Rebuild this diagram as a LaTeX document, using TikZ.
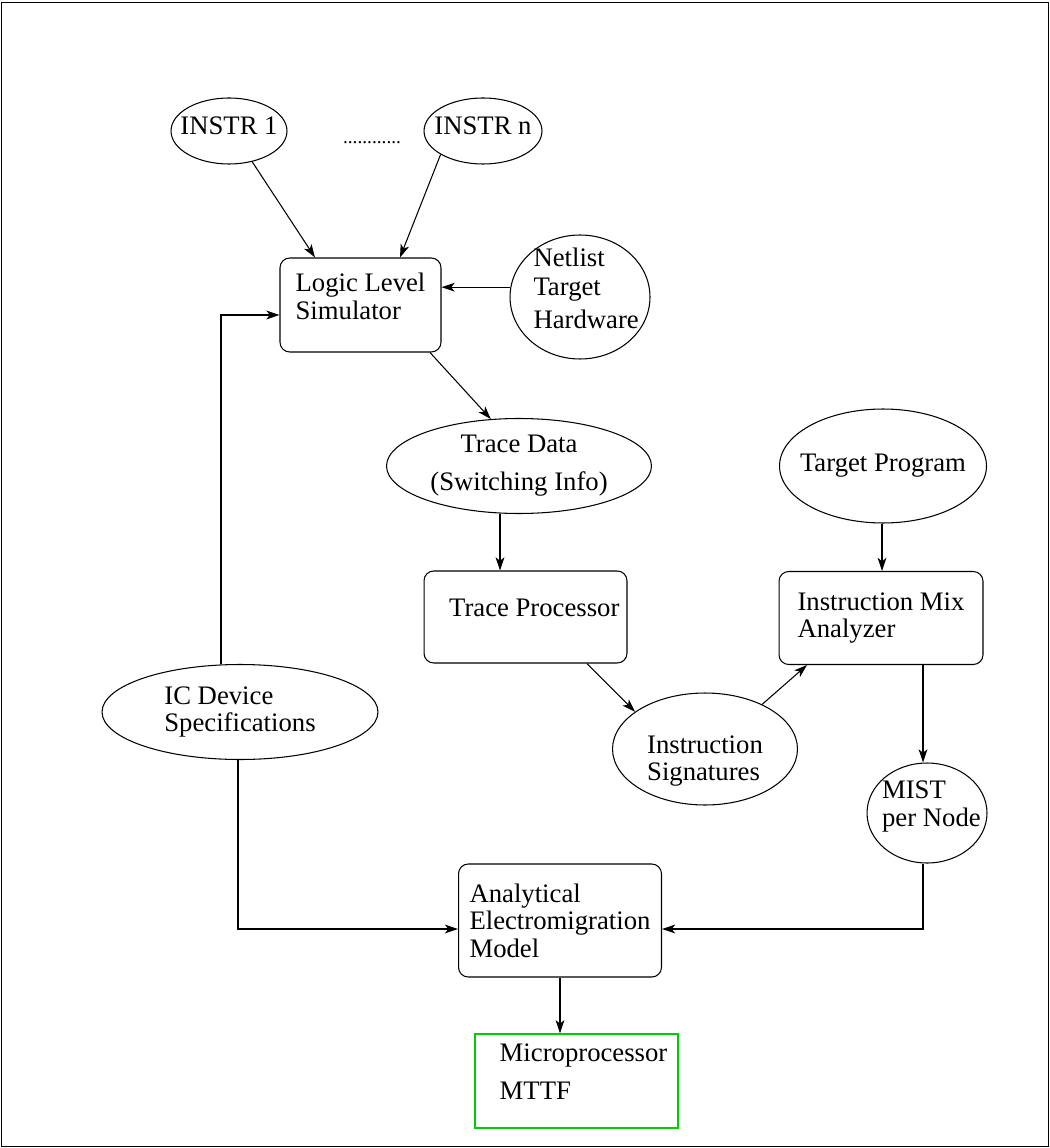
\documentclass[tikz,border=0pt]{standalone}
\usepackage{fontspec}
\setmainfont{Liberation Serif}
\usetikzlibrary{arrows.meta,shapes.geometric}
\definecolor{mttfgreen}{RGB}{0,205,0}
\begin{document}
\begin{tikzpicture}[x=0.02cm,y=-0.02cm,
    font=\fontsize{15.2}{15.6}\selectfont,
    proc/.style={draw,rounded corners=5.5pt,align=left,inner sep=0pt,line width=0.6pt},
    data/.style={draw,ellipse,align=left,inner sep=-20pt,line width=0.6pt},
    arr/.style={-{Stealth[length=7.5pt,width=5pt,inset=2pt]},line width=0.6pt}]
        %% frame
        \useasboundingbox (0,0) rectangle (1050,1148);
        \draw[line width=1pt] (1.5,2.5) rectangle (1048.5,1146.5);
        %% instructions
        \node[data,minimum width=2.32cm,minimum height=1.32cm] (instr1) at (229,131) {INSTR 1\\[-10pt]};
        \node[data,minimum width=2.36cm,minimum height=1.32cm] (instrn) at (483,131) {INSTR n\\[-10pt]};
        \node[font=\fontsize{11}{12}\selectfont] (dots) at (372,143) {............};
        %% simulator and its inputs
        \node[proc,minimum width=3.22cm,minimum height=1.88cm] (logic) at (360.5,305) {Logic Level\\Simulator\\[-5.4pt]};
        \node[data,minimum width=2.8cm,minimum height=2.48cm] (netlist) at (580,297) {\hspace*{7pt}Netlist\\[1pt]\hspace*{7pt}Target\\[3pt]\hspace*{7pt}Hardware\\[-5.4pt]};
        \node[data,minimum width=5.52cm,minimum height=1.9cm] (ic) at (240,712) {IC Device\\Specifications};
        %% trace path
        \node[data,align=center,minimum width=5.3cm,minimum height=1.9cm] (trace) at (519,466) {Trace Data\\[6pt](Switching Info)};
        \node[proc,minimum width=4.06cm,minimum height=1.84cm] (traceproc) at (525.5,617) {\hspace*{10pt}Trace Processor\\[-5.4pt]};
        \node[data,minimum width=3.7cm,minimum height=2.24cm] (sig) at (705,749) {Instruction\\Signatures\\[-25.8pt]};
        %% program path
        \node[data,minimum width=4.14cm,minimum height=2.28cm] (target) at (883,466) {Target Program};
        \node[proc,minimum width=4.08cm,minimum height=1.86cm] (mix) at (881,618) {Instruction Mix\\Analyzer};
        \node[data,minimum width=2.4cm,minimum height=2.0cm] (mist) at (927,813) {\hspace*{5pt}MIST\\\hspace*{5pt}per Node\\[-5pt]};
        %% model and result
        \node[proc,minimum width=4.06cm,minimum height=2.26cm] (model) at (560,920.5) {Analytical\\Electromigration\\Model};
        \node[draw=mttfgreen,line width=0.8pt,align=left,inner sep=0pt,minimum width=4.06cm,minimum height=1.88cm] (mttf) at (576.5,1081) {\hspace*{8pt}Microprocessor\\[6pt]\hspace*{8pt}MTTF\\[-5.4pt]};
        %% connectors
        \draw[arr] (instr1.-53) -- ([xshift=-0.91cm]logic.north);
        \draw[arr] (instrn.-151) -- ([xshift=0.79cm]logic.north);
        \draw[arr] (netlist.172) -- (netlist.172 -| logic.east);
        \draw[arr] (221,0 |- ic.north) |- ([yshift=-0.2cm]logic.west);
        \draw[arr] (430,0 |- logic.south) -- (trace.121);
        \draw[arr] (500,0 |- trace.south) -- (500,0 |- traceproc.north);
        \draw[arr] (587,0 |- traceproc.south) -- (sig.152);
        \draw[arr] (sig.38) -- (807,0 |- mix.south);
        \draw[arr] (882,0 |- target.south) -- (882,0 |- mix.north);
        \draw[arr] (923,0 |- mix.south) -- (923,0 |- mist.north);
        \draw[arr] (238,0 |- ic.south) |- ([yshift=-0.17cm]model.west);
        \draw[arr] (923,0 |- mist.south) |- ([yshift=-0.17cm]model.east);
        \draw[arr] (560,0 |- model.south) -- (560,0 |- mttf.north);
    \end{tikzpicture}
\end{document}
